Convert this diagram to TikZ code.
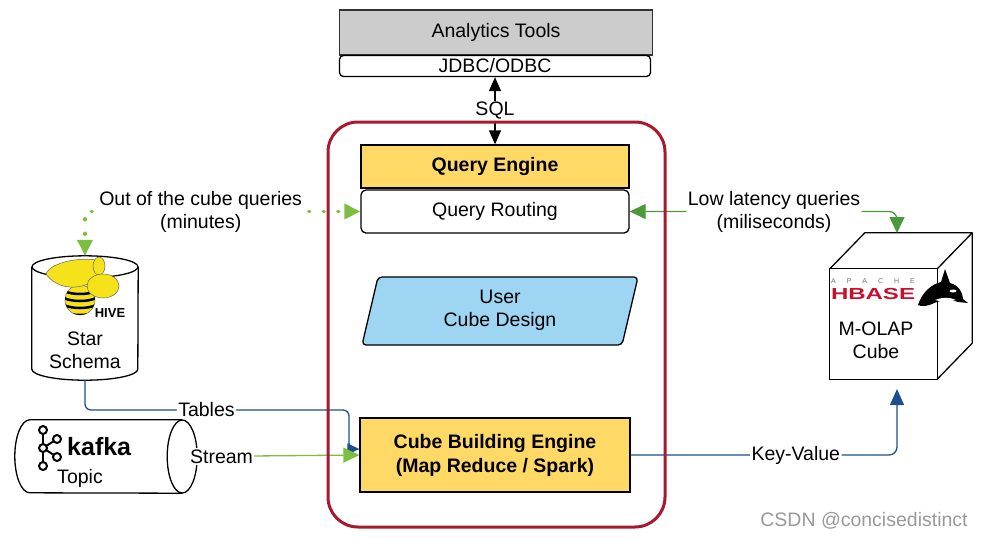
\documentclass[tikz,border=0pt]{standalone}
\usepackage{fontspec}
\setmainfont{Liberation Sans}
\usetikzlibrary{arrows.meta}
\definecolor{toolgray}{HTML}{CCCCCC}
\definecolor{engfill}{HTML}{FFD966}
\definecolor{designfill}{HTML}{9DD5F2}
\definecolor{framered}{HTML}{A6192E}
\definecolor{litegreen}{HTML}{7CBF3F}
\definecolor{darkgreen}{HTML}{4A9A3C}
\definecolor{linkblue}{HTML}{1F4E8C}
\definecolor{hiveyellow}{HTML}{F5E21B}
\definecolor{hbasered}{HTML}{C8102E}
\begin{document}
\begin{tikzpicture}[x=1pt,y=-1pt,
    every node/.style={font=\fontsize{19.5}{23}\selectfont, inner sep=0pt},
    box/.style={draw=black, line width=1.3pt, minimum width=268pt, minimum height=43pt, align=center},
    engine/.style={box, fill=engfill, font=\fontsize{19.5}{24}\selectfont\bfseries},
    lbl/.style={fill=white, text=black, align=center, inner sep=1.5pt},
    tip/.style={-{Triangle[length=16pt,width=14pt]}},
    tips/.style={{Triangle[length=16pt,width=15pt]}-{Triangle[length=16pt,width=15pt]}},
    outline/.style={line width=1.3pt}]
  \useasboundingbox (0,0) rectangle (981,539);
  \node[box, fill=toolgray, draw=black!80, minimum width=313pt, minimum height=45pt] (tools) at (496,32.5) {Analytics Tools};
  \node[box, fill=white, rounded corners=4pt, minimum width=311pt, minimum height=21pt] (jdbc) at (495,66) {JDBC/ODBC};
  \node[engine] (qe) at (495,166.5) {Query Engine};
  \node[box, fill=white, rounded corners=5pt] (qr) at (495,211.5) {Query Routing};
  \draw[outline, fill=designfill, rounded corners=4pt] (378,277) -- (638,277) -- (622,345) -- (362,345) -- cycle;
  \node[align=center] (ucd) at (500,310) {User\\Cube Design};
  \node[engine, minimum width=270pt, minimum height=74pt] (cbe) at (495,455) {Cube Building Engine\\(Map Reduce / Spark)};

  \node[minimum width=106pt, minimum height=124pt] (hive) at (85,318) {};
  \draw[outline] ([yshift=-11pt]hive.north west) -- ([yshift=11pt]hive.south west) arc[start angle=180, end angle=360, x radius=53pt, y radius=11pt] -- ([yshift=-11pt]hive.north east);
  \draw[outline] ([yshift=-11pt]hive.north) ellipse[x radius=53pt, y radius=11pt];
  \filldraw[fill=hiveyellow, draw=black!60, line width=0.5pt] (80,300) circle[radius=15pt];
  \begin{scope}
    \clip (80,300) circle[radius=15pt];
    \foreach \sy in {291,298,305,312}
      \draw[black, line width=2.5pt] (64,\sy) .. controls (72,\sy+4) and (88,\sy+4) .. (96,\sy);
  \end{scope}
  \filldraw[fill=hiveyellow, draw=black!60, line width=0.5pt] (46,274) .. controls (50,262) and (85,255) .. (104,262) .. controls (102,272) and (96,280) .. (88,284) .. controls (74,290) and (56,288) .. (46,274) -- cycle;
  \filldraw[fill=hiveyellow, draw=black!60, line width=0.5pt] (99,266) ellipse[x radius=6pt, y radius=9pt];
  \filldraw[fill=hiveyellow, draw=black!60, line width=0.5pt] (103,286) ellipse[x radius=16pt, y radius=12pt];
  \node[font=\fontsize{13}{13}\selectfont\bfseries] (hivename) at (110,313) {HIVE};
  \node[align=center] (star) at (85,350) {Star\\Schema};

  \node[minimum width=182pt, minimum height=73pt] (kafka) at (106,456.5) {};
  \draw[outline] ([xshift=-15pt]kafka.north east) -- ([xshift=15pt]kafka.north west) arc[start angle=90, end angle=270, x radius=15pt, y radius=36.5pt] -- ([xshift=-15pt]kafka.south east);
  \draw[outline] ([xshift=-15pt]kafka.east) ellipse[x radius=15pt, y radius=36.5pt];
  \foreach \kx/\ky in {43/430,57/439,57/457,43/466}
    \draw[line width=2pt] (43,448) -- (\kx,\ky);
  \foreach \kx/\ky in {43/430,57/439,43/448,57/457,43/466}
    \draw[line width=2pt, fill=white] (\kx,\ky) circle[radius=4pt];
  \node[font=\fontsize{25}{25}\selectfont\bfseries, anchor=west] (kafkaname) at (67,447) {kafka};
  \node (topic) at (80,478) {Topic};

  \node[minimum width=107pt, minimum height=110pt] (cube) at (883.5,324) {};
  \draw[outline, fill=white] (cube.north west) rectangle (cube.south east);
  \draw[outline, line join=round] (cube.north west) -- ([shift={(35pt,36pt)}]cube.north west) -- ([shift={(35pt,36pt)}]cube.north east) -- (cube.north east);
  \draw[outline, line join=round] ([shift={(35pt,36pt)}]cube.north east) -- ([shift={(35pt,36pt)}]cube.south east) -- (cube.south east);
  \node[text=black!55, font=\fontsize{7}{7}\selectfont] (apache) at (873,281) {A\hspace{11pt}P\hspace{11pt}A\hspace{11pt}C\hspace{11pt}H\hspace{11pt}E};
  \node[text=hbasered, font=\fontsize{16}{16}\selectfont\bfseries, xscale=1.5] (hbase) at (873,294) {HBASE};
  \fill[black] (918,305) .. controls (922,292) and (932,284) .. (941,282) -- (945,269) -- (950,283) .. controls (958,285) and (963,292) .. (963,299) -- (968,303) -- (958,302) .. controls (950,299) and (940,300) .. (932,304) .. controls (927,306) and (922,307) .. (918,305) -- cycle;
  \fill[white] (953,291) ellipse[x radius=3.5pt, y radius=1.5pt];
  \fill[white] (935,300) .. controls (942,297) and (950,297) .. (956,300) .. controls (948,302) and (941,302) .. (935,300) -- cycle;
  \node[align=center] (molap) at (876,340) {M-OLAP\\Cube};
  \coordinate (cubetop) at (897,233);
  \coordinate (cubebot) at (897,389);
  \coordinate (tbend) at (349,410);

  \draw[line width=1.3pt, {Triangle[length=14pt,width=12pt]}-{Triangle[length=14pt,width=12pt]}] (jdbc.south) -- node[lbl] (sql) {SQL} (qe.north);
  \draw[litegreen, line width=3.5pt, line cap=round, dash pattern=on 1pt off 13.5pt, dash phase=8pt, tips] (qr.west) -| node[lbl, pos=0.29] (outq) {Out of the cube queries\\(minutes)} (hive.north);
  \draw[darkgreen, line width=1.3pt, rounded corners=8pt, tips] (qr.east) -| node[lbl, pos=0.27] (lowq) {Low latency queries\\(miliseconds)} (cubetop);
  \draw[linkblue, line width=1.3pt, rounded corners=6pt, -{Triangle[length=12pt,width=11pt]}] (hive.south) |- node[lbl, pos=0.73] (tables) {Tables} (tbend) |- ([yshift=6pt]cbe.west);
  \draw[litegreen, line width=1.3pt, -{Triangle[length=16pt,width=15pt]}] (kafka.east) -- node[lbl, pos=0.15] (stream) {Stream} (cbe.west);
  \draw[linkblue, line width=1.3pt, rounded corners=8pt, tip] (cbe.east) -| node[lbl, pos=0.31] (kv) {Key-Value} (cubebot);
  \draw[framered, line width=3pt, rounded corners=30pt] (328,122) rectangle (665,527);
  \node[text=black!40] (mark) at (864,521) {CSDN @concisedistinct};
\end{tikzpicture}
\end{document}
